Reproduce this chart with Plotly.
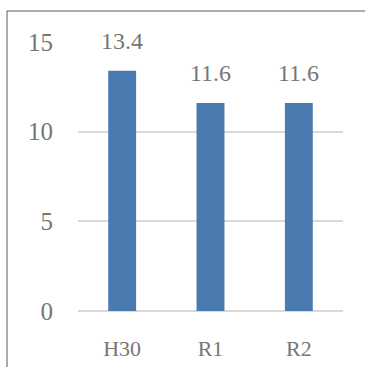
import plotly.graph_objects as go

categories = ["H30", "R1", "R2"]
values = [13.4, 11.6, 11.6]
y_ticks = [0, 5, 10, 15]
value_labels = ["13.4", "11.6", "11.6"]

text_color = "#767676"
font_family = "Liberation Serif, DejaVu Serif, serif"

fig = go.Figure()
fig.add_trace(go.Bar(
    x=categories, y=values,
    marker=dict(color="#4a7ab0", line=dict(width=0)),
    hoverinfo="skip",
))

for c, v, t in zip(categories, values, value_labels):
    fig.add_annotation(x=c, y=v, text=t, showarrow=False, yanchor="bottom",
                       yshift=15, font=dict(family=font_family, size=24, color=text_color))

W, H = 365, 367
L, R, T, B = 78, 22, 42, 56
pw, ph = W - L - R, H - T - B
fig.add_shape(type="rect", xref="paper", yref="paper",
              x0=(7 - L) / pw, x1=(W + 20 - L) / pw,
              y0=-(B + 20) / ph, y1=(H - B - 11) / ph,
              line=dict(color="#595959", width=1), layer="above")

fig.update_layout(
    width=W, height=H,
    margin=dict(l=L, r=R, t=T, b=B, pad=0, autoexpand=False),
    paper_bgcolor="white", plot_bgcolor="white",
    bargap=0.684,
    showlegend=False,
    font=dict(family=font_family, size=24, color=text_color),
)
fig.update_yaxes(range=[0, 15], tickvals=y_ticks, showgrid=True, gridcolor="#d9d9d9",
                 gridwidth=2, zeroline=True, zerolinecolor="#d9d9d9", zerolinewidth=2,
                 showline=False, ticks="", ticklabelstandoff=24, automargin=False,
                 tickfont=dict(family=font_family, size=25, color=text_color))
fig.update_xaxes(showgrid=False, showline=False, ticks="", ticklabelstandoff=22,
                 automargin=False,
                 tickfont=dict(family=font_family, size=22, color=text_color))

fig.write_html("out.html")
